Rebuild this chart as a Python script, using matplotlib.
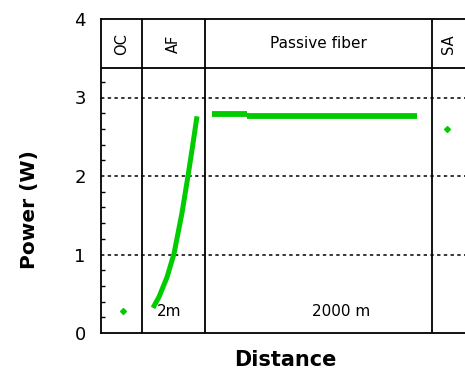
import matplotlib
matplotlib.use("Agg")
from matplotlib import pyplot as plt
from matplotlib.ticker import MultipleLocator, FixedLocator

# x is a schematic distance coordinate (no ticks on the axis)
sections = ["OC", "AF", "Passive fiber", "SA"]
section_edges = [0, 41, 104, 331, 364]
section_rotated = [True, True, False, True]

oc_x = [22]
oc_p = [0.28]

af_x = [52, 58, 66, 73, 81, 87, 91, 96]
af_p = [0.32, 0.46, 0.71, 1.01, 1.53, 2.00, 2.33, 2.76]

pf_x = [111, 146, 146, 316]
pf_p = [2.79, 2.79, 2.76, 2.76]

sa_x = [346]
sa_p = [2.60]

length_labels = ["2m", "2000 m"]
length_x = [56, 211]
header_bottom = 3.37

green = "#00cc00"

fig = plt.figure(figsize=(4.65, 3.77), dpi=100)
ax = fig.add_axes([101 / 465, 44 / 377, 364 / 465, 314 / 377])

ax.plot(af_x, af_p, color=green, lw=3.6, solid_capstyle="butt")
ax.plot(pf_x[:2], pf_p[:2], color=green, lw=4.2, solid_capstyle="butt")
ax.plot(pf_x[2:], pf_p[2:], color=green, lw=4.2, solid_capstyle="butt")
ax.plot(oc_x, oc_p, "D", color=green, ms=3)
ax.plot(sa_x, sa_p, "D", color=green, ms=3)

# dotted grid
for y in [1, 2, 3]:
    ax.axhline(y, color="black", lw=1.1, ls=(0, (2.2, 2.2)), zorder=0)

# section dividers and header row
for xe in section_edges[1:-1]:
    ax.axvline(xe, color="black", lw=1.3)
ax.axhline(header_bottom, color="black", lw=1.3)

for i, name in enumerate(sections):
    xc = (section_edges[i] + section_edges[i + 1]) / 2
    yc = (header_bottom + 4) / 2
    if section_rotated[i]:
        ax.text(xc, yc, name, rotation=90, ha="center", va="center", fontsize=10.5)
    else:
        ax.text(xc, yc, name, ha="center", va="center", fontsize=11)

for lbl, xl in zip(length_labels, length_x):
    ax.text(xl, 0.28, lbl, ha="left", va="center", fontsize=11)

ax.set_xlim(0, 364)
ax.set_ylim(0, 4)
ax.set_xticks([])
ax.yaxis.set_major_locator(MultipleLocator(1))
ax.yaxis.set_minor_locator(FixedLocator([v / 5 for v in range(1, 17) if v % 5]))
ax.tick_params(axis="y", which="major", direction="in", length=0, pad=11, labelsize=13)
ax.tick_params(axis="y", which="minor", direction="in", length=3, width=1)
ax.spines["right"].set_visible(False)
for s in ["left", "top", "bottom"]:
    ax.spines[s].set_linewidth(1.3)

ax.set_ylabel("Power (W)", fontsize=14.5, fontweight="bold")
ax.yaxis.set_label_coords(-62 / 364, (333 - 210) / 314)
ax.set_xlabel("Distance", fontsize=15, fontweight="bold")
ax.xaxis.set_label_coords(184 / 364, -0.055)

fig.savefig("out.png", dpi=100)
plt.close(fig)
